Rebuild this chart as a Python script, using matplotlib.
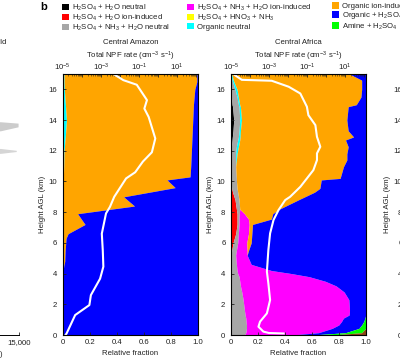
import numpy as np
import matplotlib.pyplot as plt
from matplotlib.patches import Patch
from matplotlib.ticker import LogLocator, NullFormatter

plt.rcParams['font.family'] = ['Liberation Sans', 'DejaVu Sans']
plt.rcParams['mathtext.fontset'] = 'custom'
plt.rcParams['mathtext.rm'] = 'Liberation Sans'
plt.rcParams['mathtext.it'] = 'Liberation Sans:italic'
plt.rcParams['mathtext.bf'] = 'Liberation Sans:bold'
plt.rcParams['mathtext.default'] = 'regular'
plt.rcParams['font.size'] = 5.6
plt.rcParams['text.color'] = '#222222'
plt.rcParams['axes.labelcolor'] = '#222222'
plt.rcParams['xtick.color'] = '#222222'
plt.rcParams['ytick.color'] = '#222222'

FS = 5.6

# colours of the NPF mechanisms
c_black = '#000000'
c_red = '#ff0000'
c_gray = '#a6a6a6'
c_magenta = '#ff00ff'
c_yellow = '#ffff00'
c_cyan = '#00ffff'
c_orange = '#ffa500'
c_blue = '#0000ff'
c_green = '#00ff00'
c_brown = '#8b4513'

# ---- Central Amazon: relative fractions vs height (km)
h_amz = [0, 4.0, 4.5, 4.8, 5.5, 6.3, 6.6, 7.2, 7.9, 8.4, 9.0, 9.6, 10.1, 10.3,
         11, 12, 13, 14, 15, 16, 16.5, 17]
amz_magenta = [0, 0, 0.005, 0.005, 0, 0, 0, 0, 0, 0, 0, 0, 0, 0,
               0, 0, 0, 0, 0, 0, 0, 0]
amz_cyan = [0, 0, 0, 0, 0, 0, 0, 0, 0, 0, 0, 0, 0.005, 0.005,
            0.008, 0.01, 0.02, 0.028, 0.02, 0.012, 0.01, 0.01]
amz_orange = [0, 0, 0.003, 0.01, 0.018, 0.025, 0.04, 0.165, 0.11, 0.53, 0.45, 0.83, 0.765, 0.935,
              0.937, 0.94, 0.935, 0.932, 0.945, 0.963, 0.98, 0.98]
amz_blue = [1, 1, 0.992, 0.985, 0.982, 0.975, 0.96, 0.835, 0.89, 0.47, 0.55, 0.17, 0.23, 0.06,
            0.055, 0.05, 0.045, 0.04, 0.035, 0.025, 0.01, 0.01]

# total NPF rate (cm-3 s-1), Central Amazon
h_amz_npf = [0.0, 0.1, 1.3, 1.95, 2.6, 3.67, 4.45, 5.5, 6.6, 7.92, 8.35, 9.0, 10.2, 10.6,
             11.3, 11.9, 12.8, 14.2, 14.75, 15.3, 16.3, 16.6, 17.0]
amz_npf = [1.4e-5, 1.6e-5, 4.5e-5, 2.5e-4, 3.0e-4, 9.1e-4, 1.35e-3, 1.26e-3, 1.12e-3, 1.86e-3,
           3.0e-3, 5.0e-3, 0.021, 0.063, 0.16, 0.47, 0.71, 0.32, 0.19, 0.26, 0.076, 0.015, 4.6e-3]

# ---- Central Africa
h_afr = [0, 0.15, 0.43, 0.65, 0.87, 1.1, 1.3, 1.6, 2.3, 2.8, 3.2, 3.5, 3.8, 4.0, 4.2, 4.6,
         5.2, 5.5, 6.0, 6.6, 7.2, 7.55, 7.9, 8.2, 8.8, 9.3, 9.55, 10.1, 10.2, 10.96,
         11.4, 11.8, 12.26, 12.7, 12.9, 13.3, 14.0, 14.87, 15.0, 15.5, 16.0, 16.6, 17.0]
afr_black = [0, 0, 0, 0, 0, 0, 0, 0, 0, 0, 0, 0, 0, 0, 0, 0,
             0, 0, 0, 0, 0, 0, 0, 0, 0, 0, 0, 0, 0, 0,
             0, 0, 0.003, 0.008, 0.01, 0.015, 0.02, 0.012, 0.008, 0.003, 0, 0, 0]
afr_red = [0, 0, 0, 0, 0, 0, 0, 0, 0, 0, 0, 0, 0, 0, 0, 0,
           0, 0.005, 0.015, 0.035, 0.045, 0.045, 0.045, 0.04, 0.03, 0.012, 0.005, 0, 0, 0,
           0, 0, 0, 0, 0, 0, 0, 0, 0, 0, 0, 0, 0]
afr_gray = [0.10, 0.11, 0.115, 0.115, 0.112, 0.11, 0.105, 0.10, 0.09, 0.08, 0.07, 0.065, 0.06, 0.05, 0.045, 0.04,
            0.035, 0.035, 0.035, 0.02, 0.015, 0.015, 0.017, 0.025, 0.03, 0.038, 0.04, 0.04, 0.04, 0.035,
            0.035, 0.035, 0.037, 0.042, 0.045, 0.045, 0.045, 0.048, 0.047, 0.042, 0.03, 0.008, 0]
afr_magenta = [0.35, 0.54, 0.635, 0.685, 0.708, 0.725, 0.772, 0.78, 0.785, 0.76, 0.71, 0.635, 0.52, 0.40, 0.255, 0.11,
               0.085, 0.08, 0.067, 0.075, 0.075, 0.07, 0.038, 0, 0, 0, 0, 0, 0, 0,
               0, 0, 0, 0, 0, 0, 0, 0, 0, 0, 0, 0, 0]
afr_cyan = [0, 0, 0, 0, 0, 0, 0, 0, 0, 0, 0, 0, 0, 0, 0, 0,
            0, 0, 0, 0, 0, 0, 0, 0, 0, 0, 0, 0, 0, 0,
            0.005, 0.01, 0.015, 0.015, 0.013, 0.01, 0.013, 0.01, 0.01, 0.01, 0.015, 0.009, 0.005]
afr_orange = [0, 0, 0, 0, 0, 0, 0, 0, 0, 0, 0, 0, 0, 0, 0, 0,
              0, 0.01, 0.033, 0.025, 0.025, 0.17, 0.21, 0.295, 0.44, 0.57, 0.615, 0.63, 0.77, 0.80,
              0.82, 0.815, 0.815, 0.785, 0.842, 0.80, 0.782, 0.80, 0.865, 0.91, 0.925, 0.953, 0.875]
afr_blue = [0.15, 0.20, 0.20, 0.17, 0.165, 0.16, 0.123, 0.12, 0.125, 0.16, 0.22, 0.30, 0.42, 0.55, 0.70, 0.85,
            0.88, 0.87, 0.85, 0.845, 0.84, 0.70, 0.69, 0.64, 0.50, 0.38, 0.34, 0.33, 0.19, 0.165,
            0.14, 0.14, 0.13, 0.15, 0.09, 0.13, 0.14, 0.13, 0.07, 0.035, 0.03, 0.03, 0.12]
afr_green = [0.15, 0.12, 0.05, 0.03, 0.015, 0.005, 0, 0, 0, 0, 0, 0, 0, 0, 0, 0,
             0, 0, 0, 0, 0, 0, 0, 0, 0, 0, 0, 0, 0, 0,
             0, 0, 0, 0, 0, 0, 0, 0, 0, 0, 0, 0, 0]
afr_brown = [0.25, 0.03, 0, 0, 0, 0, 0, 0, 0, 0, 0, 0, 0, 0, 0, 0,
             0, 0, 0, 0, 0, 0, 0, 0, 0, 0, 0, 0, 0, 0,
             0, 0, 0, 0, 0, 0, 0, 0, 0, 0, 0, 0, 0]

h_afr_npf = [0.10, 0.13, 0.22, 0.54, 0.87, 1.41, 2.28, 3.37, 4.12, 5.53, 6.62, 7.49, 8.14, 8.79,
             9.0, 9.65, 10.74, 11.39, 11.83, 12.26, 12.91, 13.67, 14.32, 14.87, 15.73, 16.17,
             16.56, 16.62, 16.93]
afr_npf = [5.9e-3, 1.0e-3, 5.1e-4, 2.8e-4, 3.4e-4, 7.8e-4, 1.15e-3, 9.3e-4, 7.8e-4, 9.3e-4,
           1.15e-3, 1.74e-3, 3.2e-3, 7.2e-3, 1.3e-2, 4.5e-2, 0.22, 0.34, 0.34, 0.51, 0.34,
           0.28, 0.12, 0.10, 0.045, 0.011, 1.4e-3, 3.7e-5, 1.6e-5]

# ---- fragment of panel a at the left edge
wedge_x = [0, 13000, 14900]
wedge1_lo = [12.9, 13.3, 13.56]
wedge1_hi = [13.9, 13.89, 13.8]
wedge2_x = [0, 13000, 14700]
wedge2_lo = [11.7, 11.83, 11.95]
wedge2_hi = [12.3, 12.15, 12.03]

legend_cols = [
    [('H$_2$SO$_4$ + H$_2$O neutral', c_black),
     ('H$_2$SO$_4$ + H$_2$O ion-induced', c_red),
     ('H$_2$SO$_4$ + NH$_3$ + H$_2$O neutral', c_gray)],
    [('H$_2$SO$_4$ + NH$_3$ + H$_2$O ion-induced', c_magenta),
     ('H$_2$SO$_4$ + HNO$_3$ + NH$_3$', c_yellow),
     ('Organic neutral', c_cyan)],
    [('Organic ion-induced', c_orange),
     ('Organic + H$_2$SO$_4$', c_blue),
     ('Amine + H$_2$SO$_4$', c_green)],
]

W, H = 400, 359
fig = plt.figure(figsize=(W / 100, H / 100), dpi=100)


def frac(x0, y0, w, h):
    # pixel box (top-left origin) -> figure fraction
    return [x0 / W, (H - y0 - h) / H, w / W, h / H]


def setup_axes(ax, title=None):
    ax.set_xlim(0, 1)
    ax.set_ylim(0, 17)
    ax.set_xticks([0, 0.2, 0.4, 0.6, 0.8, 1.0])
    ax.set_xticklabels(['0', '0.2', '0.4', '0.6', '0.8', '1.0'])
    ax.set_yticks(range(0, 17, 2))
    ax.tick_params(direction='in', length=2.5, width=0.6, pad=3, labelsize=FS)
    ax.tick_params(axis='y', pad=4)
    ax.set_xlabel('Relative fraction', labelpad=2.5)
    ax.set_ylabel('Height AGL (km)', labelpad=2)
    for s in ax.spines.values():
        s.set_linewidth(0.7)
    top = ax.twiny()
    top.set_xscale('log')
    top.set_xlim(1e-5, 10 ** 2.1)
    top.set_xticks([1e-5, 1e-4, 1e-3, 1e-2, 1e-1, 1e0, 1e1, 1e2])
    top.set_xticklabels(['10$^{-5}$', '', '10$^{-3}$', '', '10$^{-1}$', '', '10$^{1}$', ''])
    top.xaxis.set_minor_locator(LogLocator(base=10, subs=np.arange(2, 10), numticks=30))
    top.xaxis.set_minor_formatter(NullFormatter())
    top.tick_params(which='major', direction='in', length=2.5, width=0.6, pad=0.8, labelsize=FS)
    top.tick_params(which='minor', direction='in', length=1.5, width=0.4)
    top.set_xlabel('Total NPF rate (cm$^{-3}$ s$^{-1}$)', labelpad=2.5)
    if title:
        top.set_title(title, pad=3.5, fontsize=FS)
    return top


def stack(ax, h, layers):
    left = np.zeros(len(h))
    for vals, col in layers:
        vals = np.asarray(vals, dtype=float)
        ax.fill_betweenx(h, left, left + vals, color=col, lw=0)
        left = left + vals


# Central Amazon
ax1 = fig.add_axes(frac(62.7, 74, 135.5, 261))
stack(ax1, h_amz, [(amz_magenta, c_magenta), (amz_cyan, c_cyan),
                   (amz_orange, c_orange), (amz_blue, c_blue)])
top1 = setup_axes(ax1, 'Central Amazon')
top1.plot(amz_npf, h_amz_npf, color='white', lw=1.5)

# Central Africa
ax2 = fig.add_axes(frac(231, 74, 134.7, 261))
stack(ax2, h_afr, [(afr_black, c_black), (afr_red, c_red), (afr_gray, c_gray),
                   (afr_magenta, c_magenta), (afr_cyan, c_cyan), (afr_orange, c_orange),
                   (afr_blue, c_blue), (afr_green, c_green), (afr_brown, c_brown)])
top2 = setup_axes(ax2, 'Central Africa')
top2.plot(afr_npf, h_afr_npf, color='white', lw=1.5)

# next panel, mostly off the right edge
ax3 = fig.add_axes(frac(408, 74, 135, 261))
setup_axes(ax3)

# panel a, mostly off the left edge
axa = fig.add_axes(frac(-120, 74, 139, 261))
axa.set_xlim(0, 15000)
axa.set_ylim(0, 17)
axa.fill_between(wedge_x, wedge1_lo, wedge1_hi, color='#cccccc', lw=0)
axa.fill_between(wedge2_x, wedge2_lo, wedge2_hi, color='#d5d5d5', lw=0)
for s in ['top', 'right', 'left']:
    axa.spines[s].set_visible(False)
axa.spines['bottom'].set_linewidth(0.7)
axa.set_yticks([])
axa.set_xticks([0, 5000, 10000, 15000])
axa.set_xticklabels(['0', '5,000', '10,000', '15,000'])
axa.tick_params(direction='in', length=2.5, width=0.6, pad=3, labelsize=FS)
fig.text(7 / W, 1 - 43 / H, 'World', ha='right', va='center', fontsize=FS)
fig.text(4 / W, 1 - 355 / H, 'Number concentration (cm$^{-3}$)', ha='right', va='center', fontsize=FS)

# legend, three columns
fig.text(40 / W, 1 - 6.5 / H, 'b', fontsize=8, weight='bold', va='center', color='black')
col_x = [61.5, 186.5, 331.5]
for cx, entries in zip(col_x, legend_cols):
    handles = [Patch(facecolor=c, edgecolor='none', label=l) for l, c in entries]
    fig.legend(handles=handles, loc='upper left', bbox_to_anchor=(cx / W, 1 - 2.5 / H),
               frameon=False, fontsize=FS, handlelength=0.9, handleheight=0.9,
               handletextpad=0.4, labelspacing=0.0, borderpad=0, borderaxespad=0)

fig.savefig('out.png', dpi=100)
